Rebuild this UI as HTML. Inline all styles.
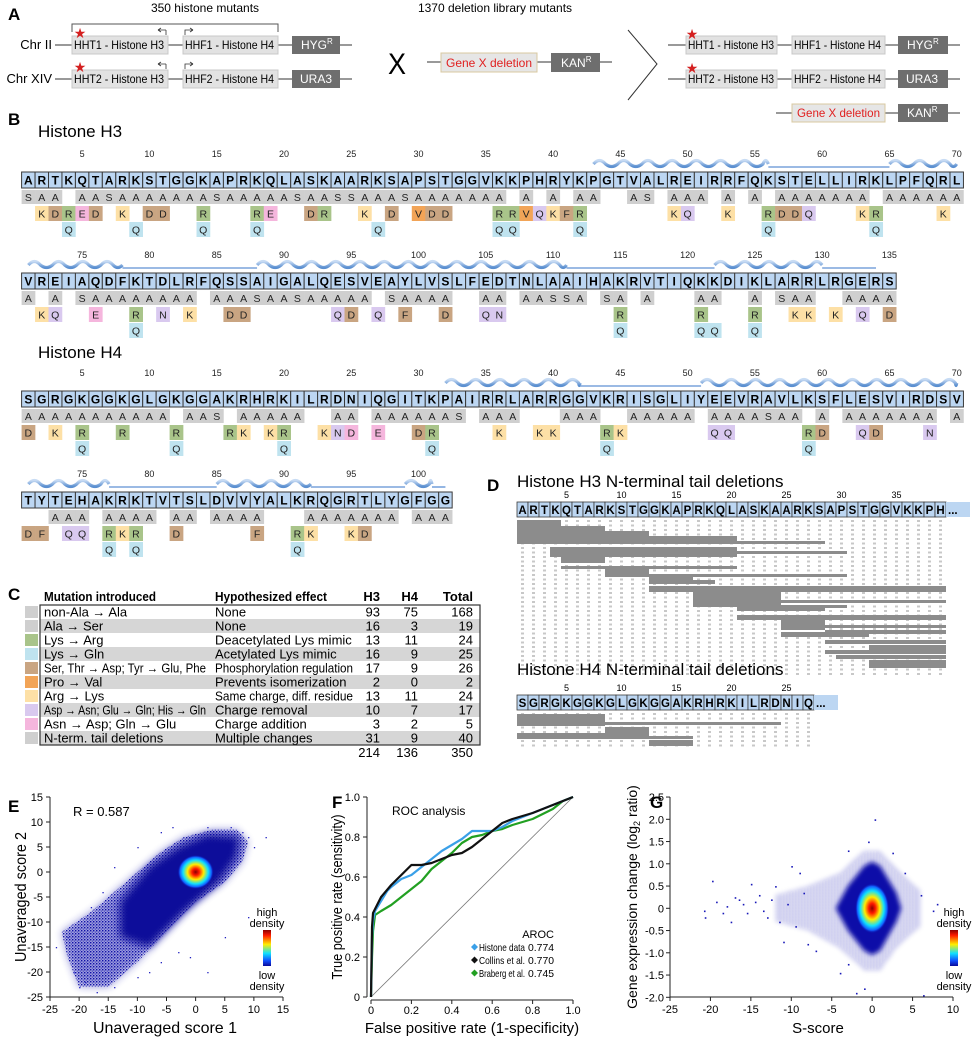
<!DOCTYPE html>
<html><head><meta charset="utf-8">
<style>
html,body{margin:0;padding:0;background:#fff;}
svg{display:block;font-family:"Liberation Sans",Arial,sans-serif;}
</style></head>
<body>
<svg id="fig" width="974" height="1040" viewBox="0 0 974 1040" xmlns="http://www.w3.org/2000/svg">
<defs>
<radialGradient id="coreE" cx="50%" cy="50%" r="50%">
<stop offset="0" stop-color="#8b0000"/><stop offset="0.2" stop-color="#ff1a00"/><stop offset="0.45" stop-color="#ffee00"/><stop offset="0.7" stop-color="#10e0ff"/><stop offset="0.88" stop-color="#1060ff"/><stop offset="1" stop-color="#0a10b0" stop-opacity="0"/>
</radialGradient>
<linearGradient id="cbar" x1="0" y1="0" x2="0" y2="1">
<stop offset="0" stop-color="#8b0000"/><stop offset="0.15" stop-color="#ff1a00"/><stop offset="0.4" stop-color="#ffee00"/><stop offset="0.65" stop-color="#10e0ff"/><stop offset="0.85" stop-color="#1050ff"/><stop offset="1" stop-color="#0a0a9a"/>
</linearGradient>
<linearGradient id="helixg" x1="0" y1="0" x2="0" y2="1">
<stop offset="0" stop-color="#c8dcf4"/><stop offset="1" stop-color="#5b8fd0"/>
</linearGradient>
<pattern id="sparse" width="3" height="3" patternUnits="userSpaceOnUse"><rect x="0" y="0" width="1.4" height="1.4" fill="#1010a8"/><rect x="1.8" y="1.6" width="1" height="1" fill="#1a1ab8"/></pattern>
<filter id="blur2"><feGaussianBlur stdDeviation="2.5"/></filter>
<filter id="blur4"><feGaussianBlur stdDeviation="4"/></filter>
</defs>

<!-- Panel A -->
<g font-size="12">
<text x="8" y="20" font-size="17" font-weight="bold">A</text>
<text x="205" y="12" text-anchor="middle" font-size="12">350 histone mutants</text>
<path d="M72 32 V24 H278 V32" fill="none" stroke="#555" stroke-width="1"/>
<g>
<text x="52" y="49" text-anchor="end" font-size="13">Chr II</text>
<line x1="55" y1="45" x2="352" y2="45" stroke="#333"/>
<rect x="72" y="36" width="96" height="18" fill="#e2e2e2" stroke="#c8c8c8"/>
<text x="74" y="49" textLength="90" lengthAdjust="spacingAndGlyphs">HHT1 - Histone H3</text>
<rect x="183" y="36" width="95" height="18" fill="#e2e2e2" stroke="#c8c8c8"/>
<text x="185" y="49" textLength="89" lengthAdjust="spacingAndGlyphs">HHF1 - Histone H4</text>
<rect x="292" y="36" width="48" height="18" fill="#6e6e6e"/>
<text x="301" y="49" fill="#fff">HYG<tspan font-size="8" dy="-5">R</tspan></text>
<text x="80" y="38" fill="#d42020" font-size="14" text-anchor="middle">★</text>
<path d="M166 30 H158 M158 30 l3 -2 M158 30 l3 2 M166 30 V35" stroke="#333" fill="none" stroke-width="0.8"/>
<path d="M185 35 V30 H193 M193 30 l-3 -2 M193 30 l-3 2" stroke="#333" fill="none" stroke-width="0.8"/>
</g>
<g>
<text x="52" y="83" text-anchor="end" font-size="13">Chr XIV</text>
<line x1="55" y1="79" x2="352" y2="79" stroke="#333"/>
<rect x="72" y="70" width="96" height="18" fill="#e2e2e2" stroke="#c8c8c8"/>
<text x="74" y="83" textLength="90" lengthAdjust="spacingAndGlyphs">HHT2 - Histone H3</text>
<rect x="183" y="70" width="95" height="18" fill="#e2e2e2" stroke="#c8c8c8"/>
<text x="185" y="83" textLength="89" lengthAdjust="spacingAndGlyphs">HHF2 - Histone H4</text>
<rect x="292" y="70" width="48" height="18" fill="#6e6e6e"/>
<text x="300" y="83" fill="#fff">URA3</text>
<text x="80" y="72" fill="#d42020" font-size="14" text-anchor="middle">★</text>
<path d="M166 64 H158 M158 64 l3 -2 M158 64 l3 2 M166 64 V69" stroke="#333" fill="none" stroke-width="0.8"/>
<path d="M185 69 V64 H193 M193 64 l-3 -2 M193 64 l-3 2" stroke="#333" fill="none" stroke-width="0.8"/>
</g>
<text x="397" y="74" font-size="30" text-anchor="middle" textLength="18" lengthAdjust="spacingAndGlyphs">X</text>
<text x="495" y="12" text-anchor="middle">1370 deletion library mutants</text>
<g>
<line x1="427" y1="62" x2="612" y2="62" stroke="#333"/>
<rect x="441" y="53" width="96" height="19" fill="#e6e6e6" stroke="#d8c8a0"/>
<text x="446" y="67" fill="#e02020" textLength="86" lengthAdjust="spacingAndGlyphs">Gene X deletion</text>
<rect x="551" y="53" width="49" height="19" fill="#6e6e6e"/>
<text x="561" y="67" fill="#fff">KAN<tspan font-size="8" dy="-5">R</tspan></text>
</g>
<path d="M628 30 L657 64 L628 100" fill="none" stroke="#333" stroke-width="1"/>
<g>
<line x1="668" y1="45" x2="960" y2="45" stroke="#333"/>
<rect x="686" y="36" width="91" height="18" fill="#e2e2e2" stroke="#c8c8c8"/>
<text x="688" y="49" textLength="86" lengthAdjust="spacingAndGlyphs">HHT1 - Histone H3</text>
<rect x="792" y="36" width="93" height="18" fill="#e2e2e2" stroke="#c8c8c8"/>
<text x="794" y="49" textLength="87" lengthAdjust="spacingAndGlyphs">HHF1 - Histone H4</text>
<rect x="898" y="36" width="50" height="18" fill="#6e6e6e"/>
<text x="907" y="49" fill="#fff">HYG<tspan font-size="8" dy="-5">R</tspan></text>
<text x="692" y="39" fill="#d42020" font-size="14" text-anchor="middle">★</text>
<line x1="668" y1="79" x2="960" y2="79" stroke="#333"/>
<rect x="686" y="70" width="91" height="18" fill="#e2e2e2" stroke="#c8c8c8"/>
<text x="688" y="83" textLength="86" lengthAdjust="spacingAndGlyphs">HHT2 - Histone H3</text>
<rect x="792" y="70" width="93" height="18" fill="#e2e2e2" stroke="#c8c8c8"/>
<text x="794" y="83" textLength="87" lengthAdjust="spacingAndGlyphs">HHF2 - Histone H4</text>
<rect x="898" y="70" width="50" height="18" fill="#6e6e6e"/>
<text x="906" y="83" fill="#fff">URA3</text>
<text x="692" y="73" fill="#d42020" font-size="14" text-anchor="middle">★</text>
<line x1="776" y1="113" x2="960" y2="113" stroke="#333"/>
<rect x="792" y="104" width="93" height="18" fill="#e6e6e6" stroke="#d8c8a0"/>
<text x="797" y="117" fill="#e02020" textLength="83" lengthAdjust="spacingAndGlyphs">Gene X deletion</text>
<rect x="898" y="104" width="50" height="18" fill="#6e6e6e"/>
<text x="907" y="117" fill="#fff">KAN<tspan font-size="8" dy="-5">R</tspan></text>
</g>
</g>

<!-- Panel B -->
<text x="8" y="125" font-size="17" font-weight="bold">B</text>
<text x="38" y="137" font-size="17">Histone H3</text>
<text x="38" y="358" font-size="17">Histone H4</text>
<g id="panelB"></g>

<!-- Panel C -->
<g id="panelC" font-size="13"></g>

<!-- Panel D -->
<g id="panelD"></g>

<!-- Panels E F G -->
<g id="panelE"></g>
<g id="panelF"></g>
<g id="panelG"></g>
</svg>

<script>
const NS='http://www.w3.org/2000/svg';
function mk(tag,attrs,parent){const e=document.createElementNS(NS,tag);for(const k in attrs)e.setAttribute(k,attrs[k]);parent.appendChild(e);return e;}
function tx(x,y,s,attrs,parent){const e=mk('text',Object.assign({x:x,y:y},attrs),parent);e.textContent=s;return e;}
function fit(e,maxW){try{const w=e.getComputedTextLength();if(w>maxW){e.setAttribute('textLength',maxW);e.setAttribute('lengthAdjust','spacingAndGlyphs');}}catch(err){}}
function parseSpec(spec){const m={};spec.forEach(function(s){const r=s.match(/^(\d+)(?:-(\d+))?([A-Z])$/);const a=+r[1],b=r[2]?+r[2]:a;for(let i=a;i<=b;i++)m[i]=r[3];});return m;}

/* ---------- Panel B data ---------- */
const h3r1Seq='ARTKQTARKSTGGKAPRKQLASKAARKSAPSTGGVKKPHRYKPGTVALREIRRFQKSTELLIRKLPFQRL';
const h3r1Ala=['1S','2-3A','5-6A','7S','8-14A','15S','16-20A','21S','22-23A','24-25S','26-28A','29S','30-36A','38A','40A','42-43A','46A','47S','49-51A','53A','55A','57-63A','65-70A'];
const h3r1Mut=['2K','3D','4R','5E','6D','8K','10-11D','14R','18R','19E','22D','23R','26K','28D','30V','31-32D','36-37R','38V','39Q','40K','41F','42R','49K','50Q','53K','56R','57-58D','59Q','63K','64R','69K'];
const h3r1Gln=['4Q','9Q','14Q','18Q','27Q','36-37Q','42Q','56Q','64Q'];
const h3r2Seq='VREIAQDFKTDLRFQSSAIGALQESVEAYLVSLFEDTNLAAIHAKRVTIQKKDIKLARRLRGERS';
const h3r2Ala=['71A','73A','75S','76-83A','85-87A','88S','89-90A','91S','92-96A','98S','99-102A','105-106A','108-109A','110-111S','112A','114S','115A','117A','121-122A','125A','127S','128-129A','132-135A'];
const h3r2Mut=['72K','73Q','76E','79R','81N','83K','86-87D','94Q','95D','97Q','99F','102D','105Q','106N','115R','121R','125R','128-129K','131K','133Q','135D'];
const h3r2Gln=['79Q','115Q','121-122Q','125Q'];
const h4r1Seq='SGRGKGGKGLGKGGAKRHRKILRDNIQGITKPAIRRLARRGGVKRISGLIYEEVRAVLKSFLESVIRDSV';
const h4r1Ala=['1-11A','13-14A','15S','17-21A','24-25A','27-32A','33S','35-37A','41-43A','46-50A','52-55A','56S','57-58A','60A','62-68A','70A'];
const h4r1Mut=['1D','3K','5R','8R','12R','16R','17K','19K','20R','23K','24N','25D','27E','30D','31R','36K','39-40K','44R','45K','52-53Q','59R','60D','63Q','64D','68N'];
const h4r1Gln=['5Q','12Q','20Q','31Q','44Q','59Q'];
const h4r2Seq='TYTEHAKRKTVTSLDVVYALKRQGRTLYGFGG';
const h4r2Ala=['73-75A','77-80A','82-83A','85-88A','92-98A','100-102A'];
const h4r2Mut=['71D','72F','74-75Q','77R','78K','79R','82D','88F','91R','92K','95K','96D'];
const h4r2Gln=['77Q','79Q','91Q'];
const h3r1Helix=[[43,56],[65,70]], h3r1Loop=[[56,65]];
const h3r2Helix=[[71,78],[88,111],[122,130]], h3r2Loop=[[78,88],[111,122],[130,134]];
const h4r1Helix=[[32,42],[51,70]], h4r1Loop=[[42,51]];
const h4r2Helix=[[71,77],[85,92],[99,101]], h4r2Loop=[[77,85],[92,99],[101,102]];

const blocks=[
 {name:'h3-row-1',seq:h3r1Seq,start:1,top:172,ala:h3r1Ala,mut:h3r1Mut,gln:h3r1Gln,helix:h3r1Helix,loop:h3r1Loop},
 {name:'h3-row-2',seq:h3r2Seq,start:71,top:273,ala:h3r2Ala,mut:h3r2Mut,gln:h3r2Gln,helix:h3r2Helix,loop:h3r2Loop},
 {name:'h4-row-1',seq:h4r1Seq,start:1,top:391,ala:h4r1Ala,mut:h4r1Mut,gln:h4r1Gln,helix:h4r1Helix,loop:h4r1Loop},
 {name:'h4-row-2',seq:h4r2Seq,start:71,top:492,ala:h4r2Ala,mut:h4r2Mut,gln:h4r2Gln,helix:h4r2Helix,loop:h4r2Loop}
];
const X0=21.6, CW=13.455;
function mutColor(o,m){
 if(m==='R')return '#a9c48a';
 if(m==='V')return '#f2a457';
 if(m==='K')return '#fde0a6';
 if(m==='F')return '#c9a582';
 if(m==='D'&&(o==='S'||o==='T'))return '#c9a582';
 if(m==='E'&&o==='Y')return '#c9a582';
 if(m==='D'&&o==='N')return '#f5b6dd';
 if(m==='E'&&o==='Q')return '#f5b6dd';
 if(m==='N'||m==='Q')return (m==='Q'&&o==='K')?'#bfe3ef':'#d9c9ef';
 return '#ddd';
}
const pB=document.getElementById('panelB');
blocks.forEach(function(b){
 const g=mk('g',{},pB);
 
 
 const cx=function(i){return X0+(i-b.start)*CW;};
 b.helix.forEach(function(h){
  const x1=cx(h[0])+CW/2,x2=cx(h[1])+CW/2,yc=b.top-8;
  const per=CW*1.8;let x=x1;let d='M'+x1+' '+yc;
  while(x<x2){const xm=Math.min(x+per/2,x2);d+=' Q'+((x+xm)/2)+' '+(yc-7)+' '+xm+' '+yc;const xn=Math.min(xm+per/2,x2);if(xn>xm)d+=' Q'+((xm+xn)/2)+' '+(yc+5)+' '+xn+' '+yc;x=xn;}
  const p=mk('path',{d:d,fill:'none',stroke:'url(#helixg)','stroke-width':3.2},g);
  
  
 });
 b.loop.forEach(function(l){
  const ln=mk('line',{x1:cx(l[0])+CW/2,x2:cx(l[1])+CW/2,y1:b.top-5,y2:b.top-5,stroke:'#7aa3dc','stroke-width':1.6},g);
  
  
 });
 for(let i=b.start;i<b.start+b.seq.length;i++){
  if(i%5===0){const t=tx(cx(i)+CW/2,b.top-15,String(i),{'font-size':9,'text-anchor':'middle',fill:'#222'},g);
   
   }
 }
 const ala=parseSpec(b.ala),mut=parseSpec(b.mut),gln=parseSpec(b.gln);
 for(let k=0;k<b.seq.length;k++){
  const i=b.start+k,x=cx(i),o=b.seq[k];
  const r=mk('rect',{x:x,y:b.top,width:CW,height:16,fill:'#bcd6f2',stroke:'#3a3a3a','stroke-width':1},g);
  
  
  const t=tx(x+CW/2,b.top+12.5,o,{'font-size':12,'font-weight':'bold','text-anchor':'middle'},g);
  
  
  if(ala[i]){
   const a=mk('rect',{x:x,y:b.top+18,width:CW+0.3,height:14,fill:'#cfcfcf'},g);
   
   
   const at=tx(x+CW/2,b.top+29,ala[i],{'font-size':10.5,'text-anchor':'middle',fill:'#222'},g);
   
   
  }
  if(mut[i]){
   const m=mk('rect',{x:x,y:b.top+34,width:CW+0.3,height:15,fill:mutColor(o,mut[i])},g);
   
   
   const mt=tx(x+CW/2,b.top+45.5,mut[i],{'font-size':10.5,'text-anchor':'middle',fill:'#222'},g);
   
   
  }
  if(gln[i]){
   const q=mk('rect',{x:x,y:b.top+50,width:CW+0.3,height:15,fill:'#bfe3ef'},g);
   
   
   const qt=tx(x+CW/2,b.top+61.5,'Q',{'font-size':10.5,'text-anchor':'middle',fill:'#222'},g);
   
   
  }
 }
});

/* ---------- Panel C ---------- */
const tMut=['non-Ala → Ala','Ala → Ser','Lys → Arg','Lys → Gln','Ser, Thr → Asp; Tyr → Glu, Phe','Pro → Val','Arg → Lys','Asp → Asn; Glu → Gln; His → Gln','Asn → Asp; Gln → Glu','N-term. tail deletions'];
const tEff=['None','None','Deacetylated Lys mimic','Acetylated Lys mimic','Phosphorylation regulation','Prevents isomerization','Same charge, diff. residue','Charge removal','Charge addition','Multiple changes'];
const tH3=[93,16,13,16,17,2,13,10,3,31];
const tH4=[75,3,11,9,9,0,11,7,2,9];
const tTot=[168,19,24,25,26,2,24,17,5,40];
const tSw=['#cfcfcf','#cfcfcf','#a9c48a','#bfe3ef','#c9a582','#f2a457','#fde0a6','#d9c9ef','#f5b6dd','#cfcfcf'];
const pC=document.getElementById('panelC');
tx(8,600,'C',{'font-size':17,'font-weight':'bold'},pC);
const hdr=[['Mutation introduced',44,'start',112],['Hypothesized effect',215,'start',112],['H3',380,'end',30],['H4',418,'end',30],['Total',473,'end',40]];
hdr.forEach(function(h){const t=tx(h[1],601,h[0],{'font-weight':'bold','text-anchor':h[2]},pC);
 
 
 fit(t,h[3]);});
tMut.forEach(function(m,k){
 const y=605+k*14;
 if(k%2===1){const bg=mk('rect',{x:40,y:y,width:440,height:14,fill:'#d6d6d6'},pC);
  
  }
 const sw=mk('rect',{x:25,y:y+1,width:13,height:12,fill:tSw[k]},pC);
 
 
 const c1=tx(44,y+11.5,m,{},pC);
 fit(c1,162);
 const c2=tx(215,y+11.5,tEff[k],{},pC);
 fit(c2,138);
 const c3=tx(380,y+11.5,String(tH3[k]),{'text-anchor':'end'},pC);
 const c4=tx(418,y+11.5,String(tH4[k]),{'text-anchor':'end'},pC);
 const c5=tx(473,y+11.5,String(tTot[k]),{'text-anchor':'end'},pC);
});
const box=mk('rect',{x:40,y:605,width:440,height:140,fill:'none',stroke:'#333','stroke-width':1.2},pC);


[['214',380],['136',418],['350',473]].forEach(function(s){const t=tx(s[1],757,s[0],{'text-anchor':'end'},pC);
 
 });

/* ---------- Panel D ---------- */
const pD=document.getElementById('panelD');
tx(487,491,'D',{'font-size':17,'font-weight':'bold'},pD);
const dH3Seq='ARTKQTARKSTGGKAPRKQLASKAARKSAPSTGGVKKPH';
const dH4Seq='SGRGKGGKGLGKGGAKRHRKILRDNIQ';
const dH3Start=[1,1,1,1,1,4,4,5,5,9,9,13,13,13,17,17,21,21,21,21,25,25,29,25,29,33,29,30,33];
const dH3End=[4,8,12,20,28,20,30,8,20,12,30,16,40,18,24,40,24,30,28,40,28,40,40,32,40,40,40,40,40];
const dH3Y=[520,526,531,536,541,547,551,557,566,569,574,577,586,580,592,600,603,605,608,615,620,625,630,632,640,645,650,655,660];
const dH3H=[7,6,5,5,3,10,3,6,3,8,3,6,6,4,15,3,8,3,3,5,10,3,4,5,4,5,4,4,8];
const dH4Start=[1,1,1,9,13,1];
const dH4End=[8,24,12,12,16,16];
const dH4Y=[714,722,733,727,740,736];
const dH4H=[12,3,4,8,6,3];
function drawDel(title,ty,seq,sy,starts,ends,ys,hs,ylo,yhi,nm){
 const g=mk('g',{},pD);
 
 
 tx(517,ty,title,{'font-size':17},g);
 const w=11,x0=517;
 for(let k=0;k<seq.length;k++){
  const r=mk('rect',{x:x0+k*w,y:sy,width:w,height:15,fill:'#bcd6f2',stroke:'#3a3a3a','stroke-width':0.8},g);
  
  
  const t=tx(x0+k*w+w/2,sy+12,seq[k],{'font-size':11.5,'font-weight':'bold','text-anchor':'middle'},g);
  
  
  if((k+1)%5===0){const n=tx(x0+k*w+w/2,sy-4,String(k+1),{'font-size':9,'text-anchor':'middle'},g);
   
   }
  const fl=mk('line',{x1:x0+k*w+w/2,x2:x0+k*w+w/2,y1:ylo,y2:yhi,stroke:'#c8c8c8','stroke-width':3,'stroke-dasharray':'2 2.5'},g);
  
  
 }
 const bx=x0+seq.length*w;
 const el=mk('rect',{x:bx,y:sy,width:24,height:15,fill:'#bcd6f2'},g);
 
 tx(bx+2,sy+12,'...',{'font-size':11.5,'font-weight':'bold'},g);
 starts.forEach(function(s,k){
  const e=Math.min(ends[k],seq.length);
  const r=mk('rect',{x:x0+(s-1)*w,y:ys[k],width:(e-s+1)*w,height:hs[k],fill:'#8c8c8c'},g);
  
  
 });
}
drawDel('Histone H3 N-terminal tail deletions',487,dH3Seq,502,dH3Start,dH3End,dH3Y,dH3H,520,676,'h3-deletions');
drawDel('Histone H4 N-terminal tail deletions',675,dH4Seq,695,dH4Start,dH4End,dH4Y,dH4H,713,748,'h4-deletions');

/* ---------- Panel E ---------- */
const eTicks=[-25,-20,-15,-10,-5,0,5,10,15];
const eCloudX=[-22,-20,-15,-10,-5,0,5,8,9,7,3,-2,-6,-12,-18,-23];
const eCloudY=[-17,-23,-23,-18,-12,-6,-2,2,6,8.5,8.5,7,4,-2,-8,-12];
const eDenseX=[-13,-8,-2,4,7,7.5,2,-3,-8,-13];
const eDenseY=[-13,-15,-8,-2,3,7,7.5,5,1,-6];
const eOutX=[-24,-22,-21,-20,-19,-17,-14,-10,-8,-6,-3,-1,2,-18,-16,-14,-10,-6,-4,2,6,8,9,10,12,9,5];
const eOutY=[-15,-13,-20,-23,-22,-24,-23,-21,-20,-18,-16,-17,-20,-7,-4,1,5,8,9,9,9,8,7,5,7,-9,-13];
const eCore=[0,0];
function ex(v){return 50+(v+25)*233/40;}
function ey(v){return 997-(v+25)*200/40;}
const pE=document.getElementById('panelE');
tx(8,812,'E',{'font-size':17,'font-weight':'bold'},pE);
function polyPts(xs,ys,fx,fy){return xs.map(function(v,k){return fx(v)+','+fy(ys[k]);}).join(' ');}
const eS2=mk('polygon',{points:polyPts(eCloudX,eCloudY,ex,ey),fill:'#2424b0',opacity:0.45,filter:'url(#blur4)'},pE);


const eS=mk('polygon',{points:polyPts(eCloudX,eCloudY,ex,ey),fill:'url(#sparse)',opacity:1},pE);


const eD=mk('polygon',{points:polyPts(eDenseX,eDenseY,ex,ey),fill:'#08089a',filter:'url(#blur4)'},pE);


eOutX.forEach(function(v,k){const c=mk('rect',{x:ex(v),y:ey(eOutY[k]),width:1.3,height:1.3,fill:'#2020c0'},pE);
 
 });
const eC=mk('ellipse',{cx:ex(eCore[0]),cy:ey(eCore[1]),rx:18,ry:17,fill:'url(#coreE)'},pE);


function axisLines(p,x1,y1,x2,y2,nm){const l=mk('line',{x1:x1,y1:y1,x2:x2,y2:y2,stroke:'#222','stroke-width':1},p);}
axisLines(pE,50,ey(15),50,ey(-25),'y-axis');
axisLines(pE,ex(-25),997,ex(15),997,'x-axis');
eTicks.forEach(function(t){
 mk('line',{x1:46,x2:50,y1:ey(t),y2:ey(t),stroke:'#222'},pE);
 const yl=tx(43,ey(t)+4,String(t),{'font-size':11,'text-anchor':'end'},pE);
 
 
 mk('line',{x1:ex(t),x2:ex(t),y1:997,y2:1001,stroke:'#222'},pE);
 const xl=tx(ex(t),1013,String(t),{'font-size':11,'text-anchor':'middle'},pE);
 
 
});
tx(73,816,'R = 0.587',{'font-size':13},pE);
tx(165,1033,'Unaveraged score 1',{'font-size':16,'text-anchor':'middle'},pE);
const eyt=tx(0,0,'Unaveraged score 2',{'font-size':16,'text-anchor':'middle',transform:'translate(26,897) rotate(-90)'},pE);

fit(eyt,130);
function colorbar(p,x){
 const g=mk('g',{},p);
 
 
 tx(x+4,916,'high',{'font-size':11,'text-anchor':'middle'},g);
 tx(x+4,927,'density',{'font-size':11,'text-anchor':'middle'},g);
 mk('rect',{x:x,y:930,width:8,height:36,fill:'url(#cbar)'},g);
 tx(x+4,979,'low',{'font-size':11,'text-anchor':'middle'},g);
 tx(x+4,990,'density',{'font-size':11,'text-anchor':'middle'},g);
}
colorbar(pE,263);

/* ---------- Panel F ---------- */
const rocTicks=[0,0.2,0.4,0.6,0.8,1.0];
const rocTickLabels=['0','0.2','0.4','0.6','0.8','1.0'];
const histFpr=[0,0.005,0.01,0.02,0.05,0.08,0.1,0.15,0.2,0.25,0.3,0.35,0.4,0.45,0.5,0.55,0.6,0.65,0.7,0.8,0.9,1];
const histTpr=[0,0.3,0.38,0.43,0.48,0.53,0.55,0.59,0.61,0.65,0.69,0.73,0.76,0.79,0.83,0.83,0.83,0.85,0.88,0.92,0.96,1];
const collFpr=[0,0.005,0.01,0.03,0.05,0.1,0.15,0.2,0.25,0.3,0.35,0.4,0.45,0.5,0.55,0.6,0.65,0.7,0.8,0.9,1];
const collTpr=[0,0.35,0.42,0.46,0.5,0.56,0.61,0.66,0.66,0.67,0.69,0.71,0.72,0.75,0.79,0.83,0.87,0.89,0.92,0.96,1];
const brabFpr=[0,0.005,0.01,0.02,0.05,0.1,0.15,0.2,0.25,0.3,0.35,0.4,0.45,0.5,0.55,0.6,0.65,0.7,0.8,0.9,0.95,1];
const brabTpr=[0,0.2,0.33,0.41,0.43,0.46,0.5,0.54,0.58,0.64,0.68,0.72,0.77,0.8,0.81,0.83,0.84,0.86,0.89,0.94,0.98,1];
const rocNames=['Histone data','Collins et al.','Braberg et al.'];
const rocAuc=['0.774','0.770','0.745'];
const rocColors=['#3aa0e8','#111111','#22a022'];
function fx(v){return 371+v*202;}
function fy(v){return 997-v*200;}
const pF=document.getElementById('panelF');
tx(332,808,'F',{'font-size':17,'font-weight':'bold'},pF);
axisLines(pF,367,fy(1),367,fy(0),'y-axis');
axisLines(pF,fx(0),1000,fx(1),1000,'x-axis');
const diag=mk('line',{x1:fx(0),y1:fy(0),x2:fx(1),y2:fy(1),stroke:'#777','stroke-width':0.8},pF);


rocTicks.forEach(function(t,k){
 mk('line',{x1:363,x2:367,y1:fy(t),y2:fy(t),stroke:'#222'},pF);
 const yl=tx(360,fy(t)+4,rocTickLabels[k],{'font-size':11,'text-anchor':'end'},pF);
 
 
 mk('line',{x1:fx(t),x2:fx(t),y1:1000,y2:1004,stroke:'#222'},pF);
 const xl=tx(fx(t),1014,rocTickLabels[k],{'font-size':11,'text-anchor':'middle'},pF);
 
 
});
function linePath(xs,ys){let d='M'+fx(xs[0])+' '+fy(ys[0]);for(let k=1;k<xs.length;k++){d+=' L'+fx(xs[k])+' '+fy(ys[k]);}return d;}
const rocX=[brabFpr,histFpr,collFpr], rocY=[brabTpr,histTpr,collTpr], rocC=[rocColors[2],rocColors[0],rocColors[1]];
const rocNm=['roc-line-braberg','roc-line-histone','roc-line-collins'];
rocX.forEach(function(xs,k){
 const p=mk('path',{d:linePath(xs,rocY[k]),fill:'none',stroke:rocC[k],'stroke-width':2.2,'stroke-linejoin':'round'},pF);
 
 
});
tx(392,815,'ROC analysis',{'font-size':12},pF);
tx(554,938,'AROC',{'font-size':11,'text-anchor':'end'},pF);
rocNames.forEach(function(n,k){
 const y=951+k*13;
 const g=mk('g',{},pF);
 
 
 mk('path',{d:'M'+471+' '+(y-4)+' l3.5 -3.5 l3.5 3.5 l-3.5 3.5z',fill:rocColors[k]},g);
 const nt=tx(479,y,n,{'font-size':10.5},g);
 fit(nt,46);
 const vt=tx(554,y,rocAuc[k],{'font-size':10.5,'text-anchor':'end'},g);
 fit(vt,26);
});
tx(472,1033,'False positive rate (1-specificity)',{'font-size':15,'text-anchor':'middle'},pF);
const fyt=tx(0,0,'True positive rate (sensitivity)',{'font-size':15,'text-anchor':'middle',transform:'translate(342,897) rotate(-90)'},pF);

fit(fyt,165);

/* ---------- Panel G ---------- */
const gXTicks=[-25,-20,-15,-10,-5,0,5,10];
const gYTicks=[-2.0,-1.5,-1.0,-0.5,0,0.5,1.0,1.5,2.0,2.5];
const gYTickLabels=['-2.0','-1.5','-1.0','-0.5','0','0.5','1.0','1.5','2.0','2.5'];
const gCloudX=[-12,-8,-4,-1,1,3,6,6,3,1,-1,-4,-8,-12];
const gCloudY=[-0.3,-0.5,-0.9,-1.4,-1.4,-0.9,-0.4,0.4,0.9,1.3,1.3,0.8,0.5,0.3];
const gDenseX=[-4.5,-3,-1,0,1,3,3.6,3,1,0,-1,-3];
const gDenseY=[0,-0.5,-0.95,-1.05,-0.95,-0.3,0,0.35,0.95,1.05,0.95,0.5];
const gOutX=[-20.8,-20.7,-19.8,-19.3,-18,-17.5,-17,-16,-15,-14,-13,-12,-11,-10,-9,-8,-7,-4,-3,-2,-1,0.3,-0.5,2.5,4,6.3,7.5,8,6,-3,-15.5,-14.5,-13.5,-12.5,-11.5,-10.5,-9.5,-8.5,-16.5,-18.5];
const gOutY=[-0.05,-0.2,0.62,0.15,0.05,-0.3,0.25,0.1,0.55,0.3,-0.2,0.5,-0.75,0.95,0.8,-0.8,-0.95,-1.45,-1.25,-1.9,-1.8,2.0,1.5,1.25,0.8,-1.95,-0.05,0.1,0.3,1.3,-0.1,0.15,-0.05,0.2,-0.3,0.1,-0.4,0.35,0.2,-0.1];
const gCore=[0,0];
function gx(v){return 670+(v+25)*283/35;}
function gy(v){return 908.3-v*44.5;}
const pG=document.getElementById('panelG');
tx(650,808,'G',{'font-size':17,'font-weight':'bold'},pG);
const gS=mk('polygon',{points:polyPts(gCloudX,gCloudY,gx,gy),fill:'url(#sparse)',opacity:0.55,filter:'url(#blur2)'},pG);


const gD=mk('polygon',{points:polyPts(gDenseX,gDenseY,gx,gy),fill:'#0a0aa8',filter:'url(#blur2)'},pG);


gOutX.forEach(function(v,k){const c=mk('rect',{x:gx(v),y:gy(gOutY[k]),width:1.6,height:1.6,fill:'#1818b8'},pG);
 
 });
const gC=mk('ellipse',{cx:gx(gCore[0]),cy:gy(gCore[1]),rx:17,ry:25,fill:'url(#coreE)'},pG);


axisLines(pG,670,gy(2.5),670,gy(-2.0),'y-axis');
axisLines(pG,gx(-25),997,gx(10),997,'x-axis');
gYTicks.forEach(function(t,k){
 mk('line',{x1:666,x2:670,y1:gy(t),y2:gy(t),stroke:'#222'},pG);
 const yl=tx(664,gy(t)+4,gYTickLabels[k],{'font-size':11,'text-anchor':'end'},pG);
 
 
});
gXTicks.forEach(function(t){
 mk('line',{x1:gx(t),x2:gx(t),y1:997,y2:1001,stroke:'#222'},pG);
 const xl=tx(gx(t),1013,String(t),{'font-size':11,'text-anchor':'middle'},pG);
 
 
});
tx(818,1033,'S-score',{'font-size':15,'text-anchor':'middle'},pG);
const gyt=tx(0,0,'Gene expression change (log',{'font-size':14,'text-anchor':'middle',transform:'translate(637,897) rotate(-90)'},pG);

const ts1=mk('tspan',{'font-size':9,dy:3},gyt);ts1.textContent='2';
const ts2=mk('tspan',{dy:-3},gyt);ts2.textContent=' ratio)';
colorbar(pG,950);
</script>
</body></html>
